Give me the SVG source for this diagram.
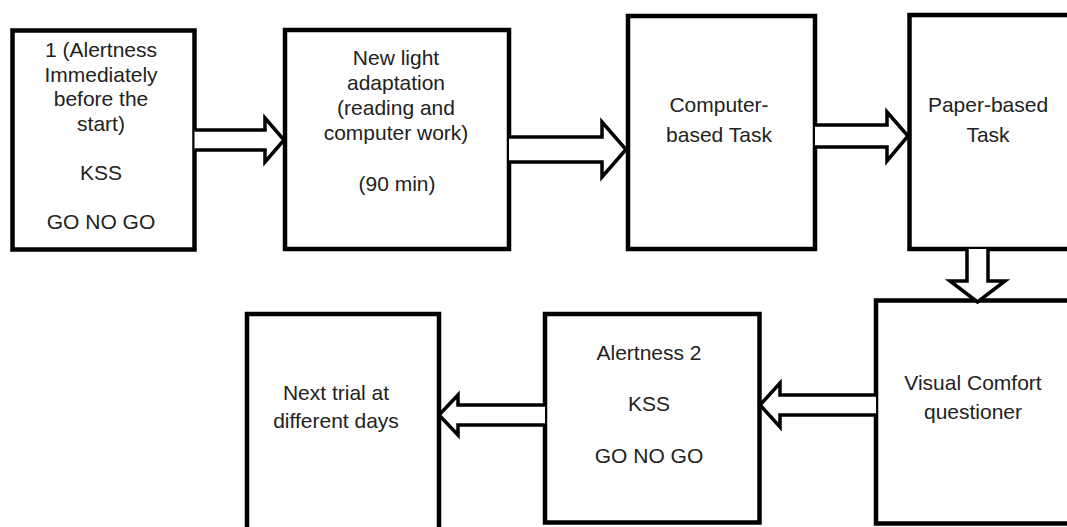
<svg xmlns="http://www.w3.org/2000/svg" width="1067" height="527" viewBox="0 0 1067 527">
<style>
.box{fill:#fff;stroke:#000;stroke-width:4.5}
.arr{fill:#fff;stroke:#000;stroke-width:3.5;stroke-linejoin:miter;stroke-miterlimit:10}
.t{font-family:"Liberation Sans",Arial,sans-serif;font-size:21px;fill:#222;text-anchor:middle}
</style>
<rect width="1067" height="527" fill="#fff"/>
<g id="n1"><rect class="box" x="12.5" y="30.5" width="182" height="219"/>
<text class="t" x="101"><tspan x="101" y="57">1 (Alertness</tspan><tspan x="101" y="81.5">Immediately</tspan><tspan x="101" y="106">before the</tspan><tspan x="101" y="130.5">start)</tspan><tspan x="101" y="179.5">KSS</tspan><tspan x="101" y="228.5">GO NO GO</tspan></text></g>
<g id="n2"><rect class="box" x="285" y="30" width="224" height="219"/>
<text class="t"><tspan x="396" y="65">New light</tspan><tspan x="396" y="90">adaptation</tspan><tspan x="396" y="115">(reading and</tspan><tspan x="396" y="140">computer work)</tspan><tspan x="397" y="191">(90 min)</tspan></text></g>
<g id="n3"><rect class="box" x="628" y="16" width="187" height="233"/>
<text class="t"><tspan x="719" y="112">Computer-</tspan><tspan x="719" y="142">based Task</tspan></text></g>
<g id="n4"><rect class="box" x="909.5" y="15" width="200" height="234"/>
<text class="t"><tspan x="988" y="112">Paper-based</tspan><tspan x="988" y="142">Task</tspan></text></g>
<g id="n5"><rect class="box" x="876" y="300.5" width="250" height="223"/>
<text class="t"><tspan x="973" y="390">Visual Comfort</tspan><tspan x="973" y="419">questioner</tspan></text></g>
<g id="n6"><rect class="box" x="545" y="314" width="214.5" height="208.5"/>
<text class="t"><tspan x="649" y="360">Alertness 2</tspan><tspan x="649" y="411">KSS</tspan><tspan x="649" y="463">GO NO GO</tspan></text></g>
<g id="n7"><rect class="box" x="247" y="314" width="192" height="240"/>
<text class="t"><tspan x="336" y="400">Next trial at</tspan><tspan x="336" y="428">different days</tspan></text></g>
<g id="connectors">
<path class="arr" d="M194.5,130 L265,130 L265,118 L284,140 L265,162 L265,150 L194.5,150"/>
<path class="arr" d="M509,137 L602,137 L602,122 L626,149.5 L602,177 L602,162 L509,162"/>
<path class="arr" d="M815,125 L887,125 L887,112 L908,136 L887,161 L887,147 L815,147"/>
<path class="arr" d="M967,249 L967,281 L950,281 L977.5,302 L1005,281 L988,281 L988,249"/>
<path class="arr" d="M876,395 L780,395 L780,383 L760,405 L780,427 L780,415 L876,415"/>
<path class="arr" d="M545,405 L458,405 L458,395 L439,415 L458,435 L458,425 L545,425"/>
</g>
</svg>
